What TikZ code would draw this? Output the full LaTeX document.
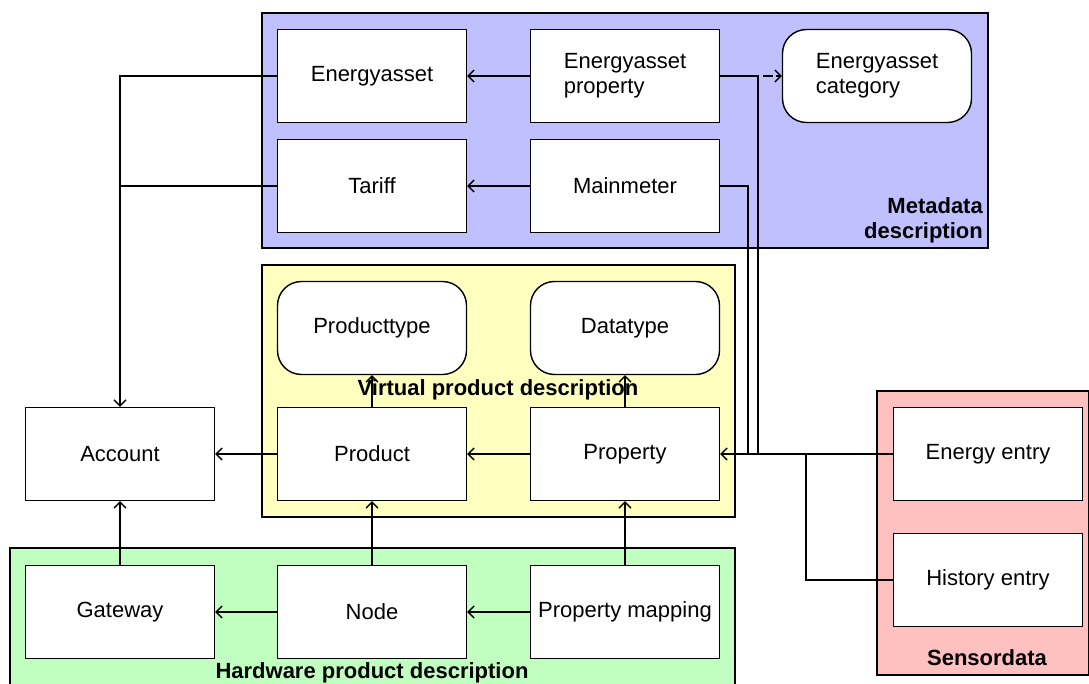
\documentclass[tikz,border=0pt]{standalone}
\usepackage{fontspec}
\setmainfont{Liberation Sans}
\usetikzlibrary{arrows.meta}

\definecolor{metablue}{HTML}{C0C0FF}
\definecolor{virtyellow}{HTML}{FFFFC0}
\definecolor{hardgreen}{HTML}{C0FFC0}
\definecolor{sensorpink}{HTML}{FFC0C0}

\begin{document}
\begin{tikzpicture}[x=1pt,y=-1pt,
		box/.style={draw,line width=1.4pt,fill=white,minimum width=189pt,minimum height=93pt,inner sep=2pt,font=\fontsize{22}{25}\selectfont},
		roundbox/.style={box,rounded corners=24pt},
		group/.style={draw,line width=1.4pt},
		grouplabel/.style={font=\fontsize{22}{25}\selectfont\bfseries,inner sep=0pt},
		line/.style={line width=1.3pt},
		link/.style={line width=1.3pt,-{Straight Barb[length=6pt,width=12pt,line width=1.3pt]}}]
				\useasboundingbox (0,0) rectangle (1089,684);
				% groups
				\filldraw[group,fill=metablue] (262,13) rectangle (988,248);
				\filldraw[group,fill=virtyellow] (262,265) rectangle (735,517);
				\filldraw[group,fill=hardgreen] (10,548) rectangle (735,700);
				\filldraw[group,fill=sensorpink] (877,391) rectangle (1089,675);
				\node[grouplabel,align=right,anchor=south east] (metalabel) at (983,243) {Metadata\\description};
				\node[grouplabel] (virtlabel) at (498,390) {Virtual product description};
				\node[grouplabel] (hardlabel) at (372,673) {Hardware product description};
				\node[grouplabel] (sensorlabel) at (987,658) {Sensordata};
				% boxes
				\node[box] (energyasset) at (372,76) {Energyasset};
				\node[box,align=left] (eaprop) at (625,76) {Energyasset\\property};
				\node[roundbox,align=left] (eacat) at (877,76) {Energyasset\\category};
				\node[box] (tariff) at (372,186) {Tariff};
				\node[box] (mainmeter) at (625,186) {Mainmeter};
				\node[roundbox] (producttype) at (372,328) {Producttype};
				\node[roundbox] (datatype) at (625,328) {Datatype};
				\node[box] (account) at (120,454) {Account};
				\node[box] (product) at (372,454) {Product};
				\node[box] (property) at (625,454) {Property};
				\node[box] (gateway) at (120,612) {Gateway};
				\node[box] (node) at (372,612) {Node};
				\node[box] (propmap) at (625,612) {Property mapping};
				\node[box] (energy) at (988,454) {Energy entry};
				\node[box] (history) at (988,580) {History entry};
				% junctions
				\coordinate (meterbus) at (748,186);
				\coordinate (propbus) at (758,76);
				\coordinate (histbus) at (806,580);
				% connectors
				\draw[link] (energyasset.west) -| (account.north);
				\draw[line] (tariff.west) -- (tariff.west -| account.north);
				\draw[link] (eaprop.west) -- (energyasset.east);
				\draw[link] (mainmeter.west) -- (tariff.east);
				\draw[line] (eaprop.east) -- (propbus) -- (propbus |- property.east);
				\draw[link,dash pattern=on 1pt off 4pt on 10pt off 3pt on 30pt] (propbus) -- (eacat.west);
				\draw[line] (mainmeter.east) -- (meterbus) -- (meterbus |- property.east);
				\draw[link] (energy.west) -- (property.east);
				\draw[line] (history.west) -- (histbus) -- (histbus |- energy.west);
				\draw[link] (product.north) -- (producttype.south);
				\draw[link] (property.north) -- (datatype.south);
				\draw[link] (product.west) -- (account.east);
				\draw[link] (property.west) -- (product.east);
				\draw[link] (gateway.north) -- (account.south);
				\draw[link] (node.north) -- (product.south);
				\draw[link] (propmap.north) -- (property.south);
				\draw[link] (node.west) -- (gateway.east);
				\draw[link] (propmap.west) -- (node.east);
			\end{tikzpicture}
\end{document}
